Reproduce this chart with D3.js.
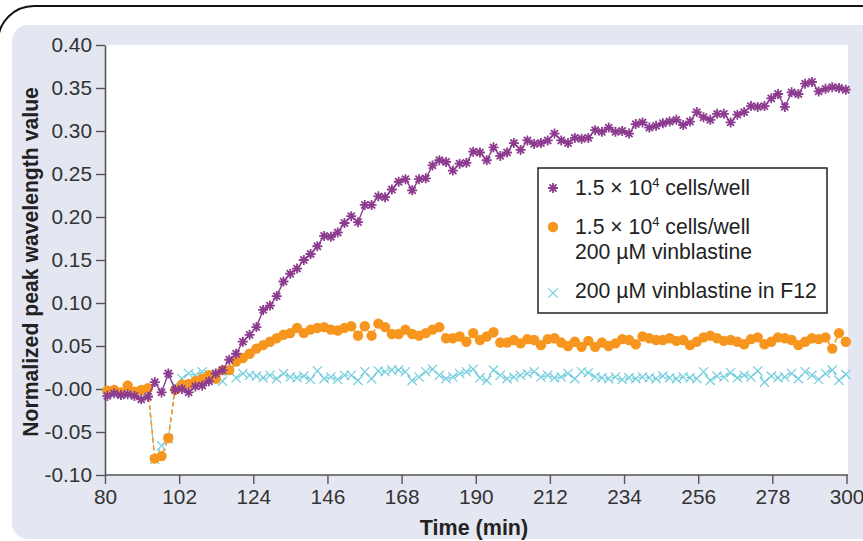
<!DOCTYPE html>
<html><head><meta charset="utf-8">
<script src="https://cdn.jsdelivr.net/npm/d3@7"></script>
<style>
html,body{margin:0;padding:0;background:#fff;}
svg{display:block;font-family:"Liberation Sans",Arial,Helvetica,sans-serif;}
</style></head><body>
<svg id="chart" width="863" height="541"></svg>
<script>
// Plate reads: first read time and interval between reads (min)
const firstRead = 80.7;
const readInterval = 2.01;

// 1.5 x 10^4 cells/well
const cellsOnly = [
  -0.008,-0.005,-0.007,-0.006,-0.008,-0.012,-0.009,0.008,-0.004,0.018,
  -0.001,0.000,-0.004,0.003,0.004,0.009,0.018,0.022,0.034,0.041,
  0.055,0.063,0.072,0.092,0.097,0.108,0.125,0.134,0.140,0.150,
  0.157,0.166,0.178,0.177,0.182,
  0.193,0.201,0.194,0.214,0.214,0.224,0.223,0.232,0.241,0.244,
  0.231,0.244,0.245,0.260,0.266,0.264,0.254,0.262,0.263,0.276,
  0.275,0.266,0.281,0.271,0.275,0.286,0.278,0.289,0.285,0.286,
  0.289,0.297,0.289,0.286,0.292,0.291,0.292,0.301,
  0.299,0.304,0.299,0.300,0.297,0.308,0.310,0.304,0.306,0.309,
  0.311,0.313,0.307,0.311,0.322,0.316,0.313,0.320,0.320,0.310,
  0.319,0.322,0.329,0.328,0.329,0.338,0.343,0.328,0.345,0.343,
  0.355,0.357,0.346,0.349,0.351,0.350,0.348
];

// 1.5 x 10^4 cells/well + 200 µM vinblastine
const cellsVinblastine = [
  -0.002,-0.001,-0.004,0.004,-0.003,-0.001,0.001,-0.081,-0.078,-0.057,
  -0.001,0.005,0.006,0.009,0.012,0.016,0.012,0.022,0.022,0.032,
  0.036,0.041,0.047,0.051,0.055,0.059,0.063,0.065,0.071,0.065,
  0.069,0.071,0.072,0.069,0.068,0.071,
  0.073,0.062,0.073,0.062,0.076,0.072,0.064,0.064,0.069,0.064,
  0.062,0.065,0.069,0.072,0.059,0.059,0.061,0.055,0.065,0.057,
  0.061,0.066,0.054,0.054,0.057,0.053,0.058,0.057,0.051,0.058,
  0.059,0.054,0.050,0.055,0.049,0.056,0.049,
  0.054,0.050,0.053,0.058,0.057,0.052,0.061,0.059,0.057,0.057,
  0.059,0.056,0.057,0.051,0.055,0.060,0.062,0.059,0.056,0.057,
  0.055,0.052,0.058,0.060,0.052,0.055,0.060,0.059,0.057,0.051,
  0.055,0.059,0.058,0.060,0.047,0.065,0.055
];

// 200 µM vinblastine in F12 (no cells)
const vinblastineF12 = [
  -0.004,-0.006,-0.005,-0.007,-0.004,-0.003,-0.002,-0.082,-0.066,-0.058,
  0.004,0.012,0.018,0.016,0.020,0.017,0.011,0.009,0.021,0.013,
  0.018,0.016,0.015,0.013,0.016,0.012,0.018,0.014,0.013,0.015,
  0.011,0.021,0.012,0.014,0.011,0.016,
  0.016,0.010,0.020,0.012,0.021,0.020,0.022,0.022,0.020,0.010,
  0.014,0.020,0.023,0.016,0.012,0.014,0.018,0.020,0.023,0.013,
  0.010,0.022,0.016,0.012,0.014,0.016,0.018,0.020,0.014,0.016,
  0.013,0.014,0.018,0.012,0.020,0.019,0.014,
  0.013,0.012,0.014,0.011,0.013,0.012,0.014,0.013,0.012,0.015,
  0.013,0.012,0.014,0.013,0.012,0.020,0.010,0.015,0.014,0.019,
  0.013,0.016,0.014,0.021,0.008,0.015,0.013,0.014,0.018,0.012,
  0.020,0.016,0.011,0.018,0.022,0.010,0.017
];

const xTickValues = [80,102,124,146,168,190,212,234,256,278,300];
const yTickValues = [-0.10,-0.05,0,0.05,0.10,0.15,0.20,0.25,0.30,0.35,0.40];
const yTickLabels = ["-0.10","-0.05","-0.00","0.05","0.10","0.15","0.20","0.25","0.30","0.35","0.40"];

const colors = {purple:"#8c3b8f", orange:"#f7961e", cyan:"#71cddd"};

const svg = d3.select("#chart");

// page frame and shaded panel
svg.append("path")
  .attr("d", "M -2 60 L -2 42 A 36 36 0 0 1 34 6 L 870 6")
  .attr("fill","none").attr("stroke","#111").attr("stroke-width",2);
svg.append("rect")
  .attr("x",12).attr("y",25).attr("width",880).attr("height",514)
  .attr("rx",16).attr("fill","#e4e6f1");
svg.append("rect")
  .attr("x",105).attr("y",45).attr("width",743).attr("height",430)
  .attr("fill","#fff");

const x = d3.scaleLinear().domain([80,300]).range([105,846.5]);
const y = d3.scaleLinear().domain([-0.10,0.40]).range([475,45]);

const timeOf = i => firstRead + i*readInterval;
const toPts = arr => arr.map((v,i)=>({t:timeOf(i), v}));

// axes
const yAxis = d3.axisLeft(y).tickValues(yTickValues)
  .tickFormat((d,i)=>yTickLabels[i]).tickSize(9).tickSizeOuter(0).tickPadding(4);
const xAxis = d3.axisBottom(x).tickValues(xTickValues)
  .tickFormat(d3.format("d")).tickSize(9).tickSizeOuter(0).tickPadding(5);

const gy = svg.append("g").attr("transform","translate(105,0)").call(yAxis);
const gx = svg.append("g").attr("transform","translate(0,475)").call(xAxis);
[gx,gy].forEach(g=>{
  g.select(".domain").attr("stroke","#555").attr("stroke-width",1.6);
  g.selectAll(".tick line").attr("stroke","#555").attr("stroke-width",1.4);
  g.selectAll(".tick text").attr("fill","#333").style("font-size","20.8px")
    .style("font-family",'"Liberation Sans",Arial,sans-serif');
});
gx.select(".domain").attr("d","M105,0H848");

// axis titles
svg.append("text").attr("x",474).attr("y",535).attr("text-anchor","middle")
  .attr("font-weight","bold").attr("font-size",21.5).attr("fill","#222")
  .text("Time (min)");
svg.append("text").attr("transform","translate(38,262) rotate(-90)")
  .attr("text-anchor","middle").attr("font-weight","bold").attr("font-size",21.2)
  .attr("fill","#222").text("Normalized peak wavelength value");

// series
const line = d3.line().x(d=>x(d.t)).y(d=>y(d.v));

function crossPath(r){ return `M${-r},${-r}L${r},${r}M${-r},${r}L${r},${-r}`; }
function starPath(r){
  const d = r*0.7071;
  return `M${-r},0L${r},0M0,${-r}L0,${r}M${-d},${-d}L${d},${d}M${-d},${d}L${d},${-d}`;
}

const cyanPts = toPts(vinblastineF12);
svg.append("path").datum(cyanPts).attr("d",line).attr("fill","none")
  .attr("stroke",colors.cyan).attr("stroke-width",1.2).attr("stroke-dasharray","4,3");
svg.append("g").selectAll("path").data(cyanPts).join("path")
  .attr("transform",d=>`translate(${x(d.t)},${y(d.v)})`)
  .attr("d",crossPath(4.6)).attr("stroke",colors.cyan).attr("stroke-width",1.2).attr("fill","none");

const orangePts = toPts(cellsVinblastine);
svg.append("path").datum(orangePts).attr("d",line).attr("fill","none")
  .attr("stroke",colors.orange).attr("stroke-width",1.6).attr("stroke-dasharray","5,3");
svg.append("g").selectAll("circle").data(orangePts).join("circle")
  .attr("cx",d=>x(d.t)).attr("cy",d=>y(d.v)).attr("r",5.2).attr("fill",colors.orange);

const purplePts = toPts(cellsOnly);
svg.append("path").datum(purplePts).attr("d",line).attr("fill","none")
  .attr("stroke",colors.purple).attr("stroke-width",1.4);
svg.append("g").selectAll("path").data(purplePts).join("path")
  .attr("transform",d=>`translate(${x(d.t)},${y(d.v)})`)
  .attr("d",starPath(5)).attr("stroke",colors.purple).attr("stroke-width",1.8).attr("fill","none");

// legend
const lg = svg.append("g");
lg.append("rect").attr("x",538).attr("y",168).attr("width",289).attr("height",145)
  .attr("fill","#fff").attr("stroke","#222").attr("stroke-width",1.5);
lg.append("path").attr("transform","translate(553,188)").attr("d",starPath(5))
  .attr("stroke",colors.purple).attr("stroke-width",1.8);
lg.append("circle").attr("cx",553).attr("cy",227).attr("r",5.2).attr("fill",colors.orange);
lg.append("path").attr("transform","translate(553,293)").attr("d",crossPath(4.6))
  .attr("stroke",colors.cyan).attr("stroke-width",1.2);

const legendSize = 21.2;
function cellsLabel(yy){
  const t = lg.append("text").attr("x",575).attr("y",yy).attr("font-size",legendSize).attr("fill","#222");
  t.append("tspan").text("1.5 \u00d7 10");
  t.append("tspan").attr("font-size",13).attr("dy",-8).text("4");
  t.append("tspan").attr("dy",8).text(" cells/well");
}
cellsLabel(195);
cellsLabel(234);
lg.append("text").attr("x",575).attr("y",259).attr("font-size",legendSize).attr("fill","#222")
  .text("200 \u00b5M vinblastine");
lg.append("text").attr("x",575).attr("y",298).attr("font-size",legendSize).attr("fill","#222")
  .text("200 \u00b5M vinblastine in F12");
</script></body></html>
